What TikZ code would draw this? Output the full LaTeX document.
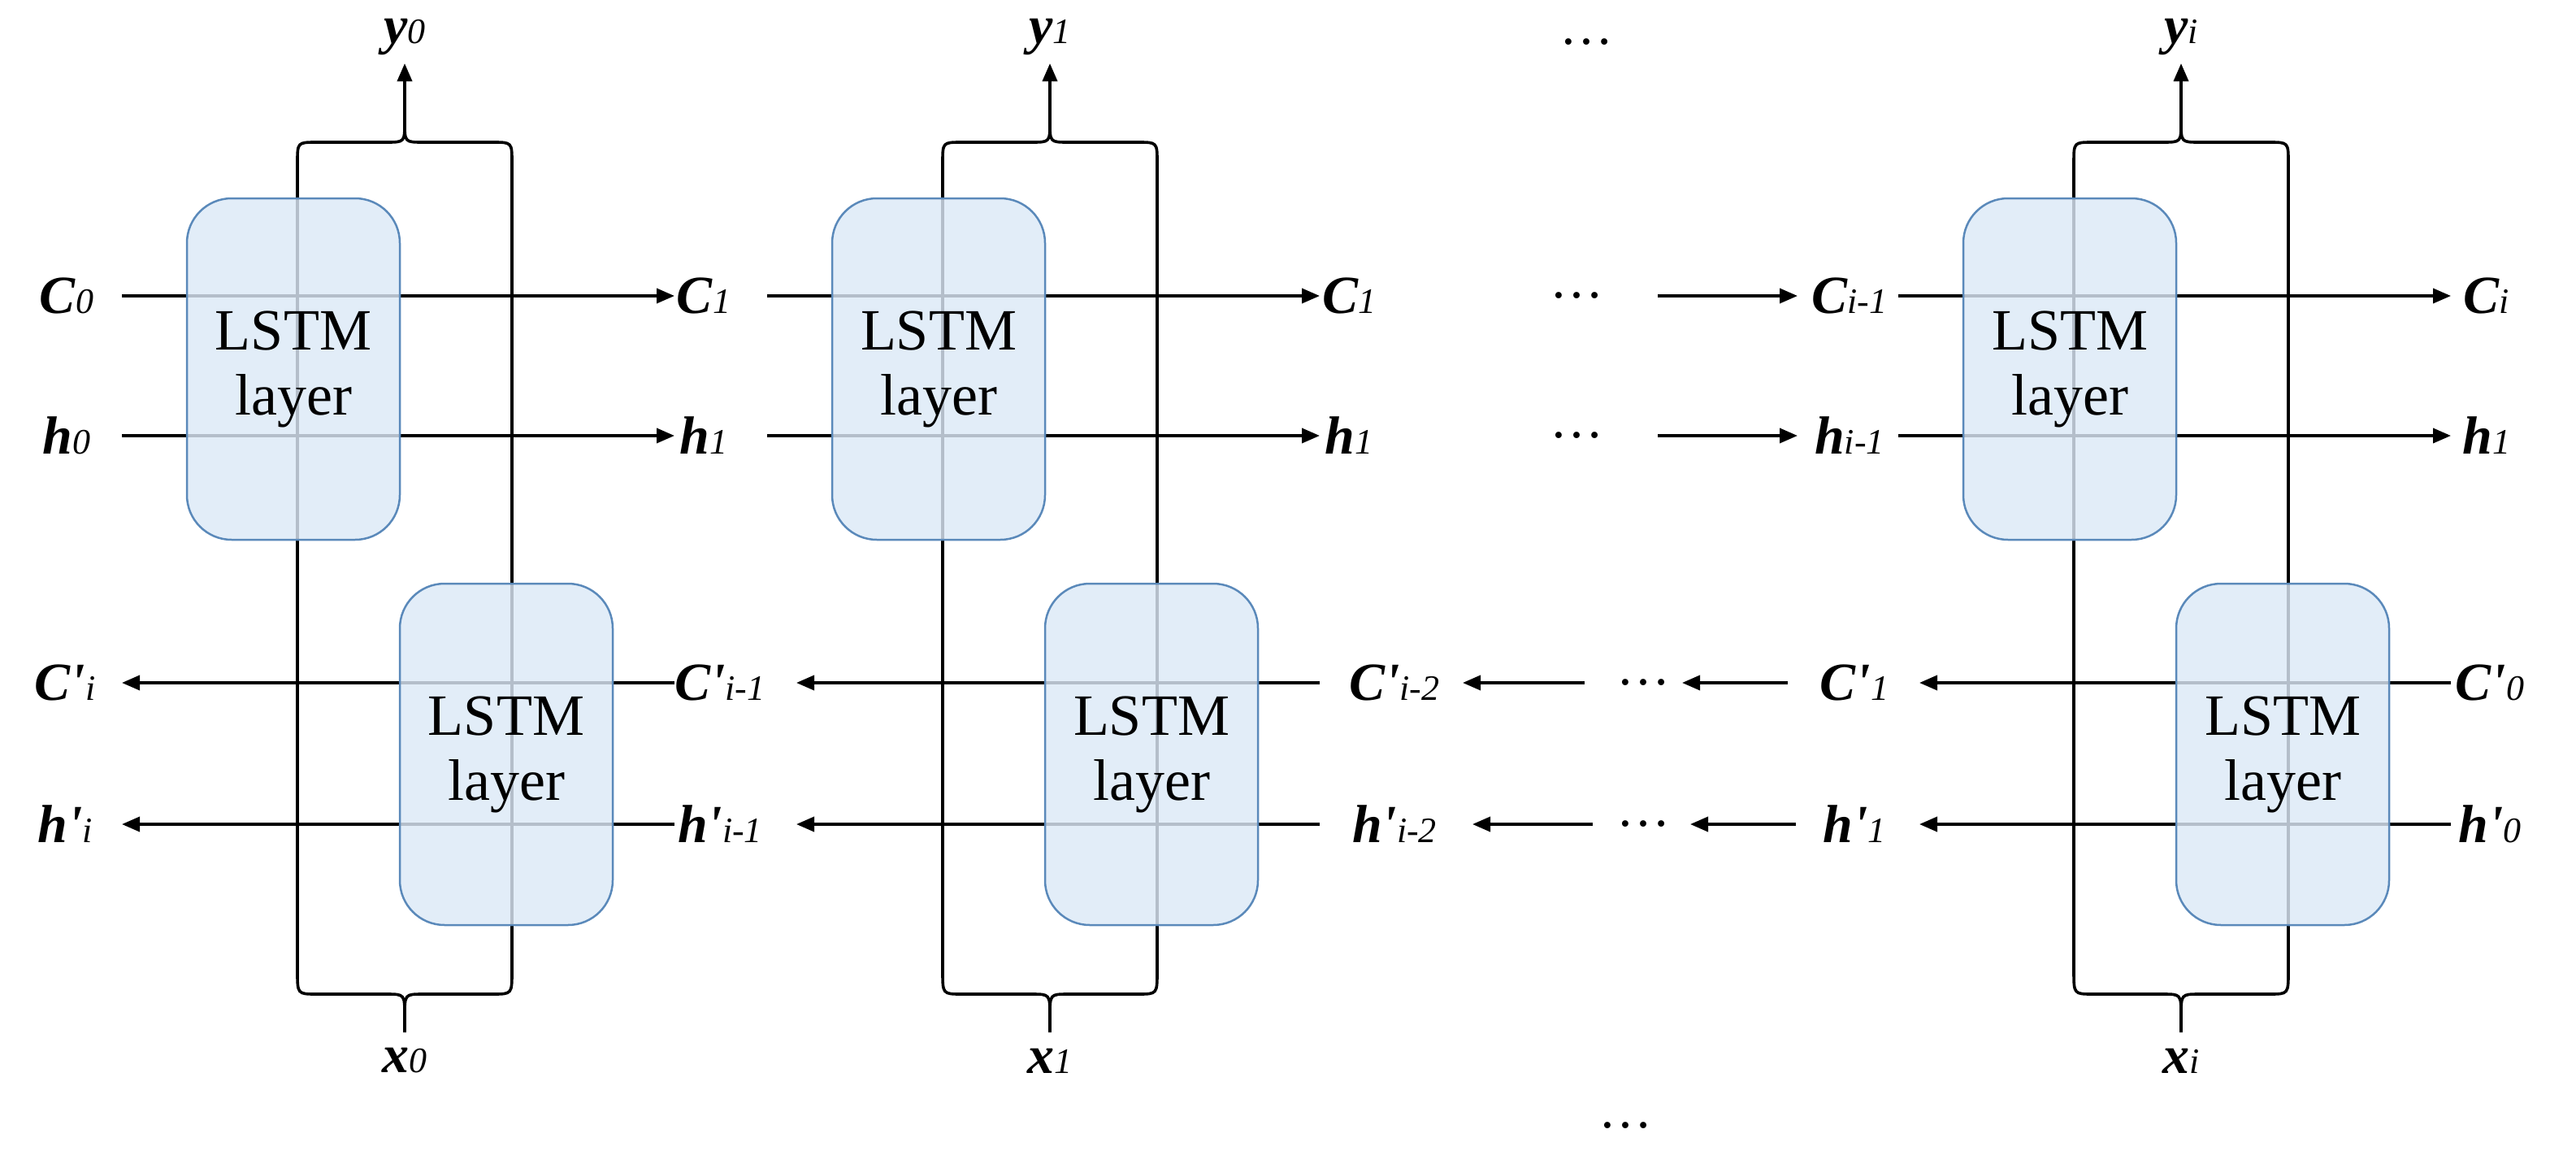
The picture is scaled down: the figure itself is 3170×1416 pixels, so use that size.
\documentclass[tikz,border=0pt]{standalone}
\usepackage{fontspec}
\setmainfont{Liberation Serif}
\usetikzlibrary{arrows.meta}
\definecolor{boxfill}{HTML}{DCE9F7}
\definecolor{boxline}{HTML}{5A89BA}
\newcommand{\lab}[2]{{\bfseries\itshape #1}{\itshape\fontsize{44}{44}\selectfont #2}}
\newcommand{\pr}{\textquotesingle}
\begin{document}
\begin{tikzpicture}[x=1pt,y=-1pt,
  every node/.style={font=\fontsize{66}{66}\selectfont},
  ln/.style={line width=3.6pt},
  arr/.style={ln,-{Triangle[length=22pt,width=18pt]}},
  lstm/.style={draw=boxline,line width=2.5pt,fill=boxfill,fill opacity=0.82,text opacity=1,rounded corners=55pt,minimum width=262pt,minimum height=420pt,inner sep=0pt,align=center,font=\fontsize{72}{80}\selectfont}]
\useasboundingbox (0,0) rectangle (3170,1416);
\foreach \o/\k/\t in {0/a/0,794/b/1,2186/c/i}{
  \begin{scope}[xshift=\o pt]
  \draw[ln] (366,1200) -- (366,200) .. controls (366,175) .. (390,175) -- (475,175) .. controls (498,175) .. (498,150);
  \draw[ln] (630,1200) -- (630,200) .. controls (630,175) .. (606,175) -- (521,175) .. controls (498,175) .. (498,150);
  \draw[arr] (498,152) -- (498,78);
  \node (y\k) at (498,45) {\lab{y}{\t}};
  \draw[ln] (366,1195) .. controls (366,1223) .. (390,1223) -- (475,1223) .. controls (498,1223) .. (498,1250) -- (498,1270);
  \draw[ln] (630,1195) .. controls (630,1223) .. (606,1223) -- (521,1223) .. controls (498,1223) .. (498,1250);
  \node (x\k) at (498,1305) {\lab{x}{\t}};
  \end{scope}
}
\node (C0) at (82,364) {\lab{C}{0}};
\node (h0) at (82,536) {\lab{h}{0}};
\node (C1a) at (866,364) {\lab{C}{1}};
\node (h1a) at (866,536) {\lab{h}{1}};
\node (C1b) at (1660,364) {\lab{C}{1}};
\node (h1b) at (1660,536) {\lab{h}{1}};
\node (dC) at (1940,364) {\dots};
\node (dh) at (1940,536) {\dots};
\node (Cim) at (2276,364) {\lab{C}{i-1}};
\node (him) at (2276,536) {\lab{h}{i-1}};
\node (Ci) at (3060,364) {\lab{C}{i}};
\node (h1c) at (3060,536) {\lab{h}{1}};
\draw[arr] (150,364) -- (830,364);
\draw[arr] (150,536) -- (830,536);
\draw[arr] (944,364) -- (1624,364);
\draw[arr] (944,536) -- (1624,536);
\draw[arr] (2040,364) -- (2212,364);
\draw[arr] (2040,536) -- (2212,536);
\draw[arr] (2336,364) -- (3016,364);
\draw[arr] (2336,536) -- (3016,536);
\node (Cpi) at (80,840) {\lab{C\pr}{i}};
\node (hpi) at (80,1014) {\lab{h\pr}{i}};
\node (Cpa) at (886,840) {\lab{C\pr}{i-1}};
\node (hpa) at (886,1014) {\lab{h\pr}{i-1}};
\node (Cpb) at (1716,840) {\lab{C\pr}{i-2}};
\node (hpb) at (1716,1014) {\lab{h\pr}{i-2}};
\node (dCp) at (2022,840) {\dots};
\node (dhp) at (2022,1014) {\dots};
\node (Cp1) at (2282,840) {\lab{C\pr}{1}};
\node (hp1) at (2282,1014) {\lab{h\pr}{1}};
\node (Cp0) at (3064,840) {\lab{C\pr}{0}};
\node (hp0) at (3064,1014) {\lab{h\pr}{0}};
\draw[arr] (830,840) -- (150,840);
\draw[arr] (830,1014) -- (150,1014);
\draw[arr] (1624,840) -- (980,840);
\draw[arr] (1624,1014) -- (980,1014);
\draw[arr] (1950,840) -- (1800,840);
\draw[arr] (1960,1014) -- (1812,1014);
\draw[arr] (2200,840) -- (2070,840);
\draw[arr] (2210,1014) -- (2080,1014);
\draw[arr] (3016,840) -- (2362,840);
\draw[arr] (3016,1014) -- (2362,1014);
\node (dtop) at (1952,52) {\dots};
\node (dbot) at (2000,1385) {\dots};
\foreach \o/\k in {0/a,794/b,2186/c}{
  \node[lstm] (U\k) at (361+\o,454) {LSTM\\layer};
  \node[lstm] (D\k) at (623+\o,928) {LSTM\\layer};
}
\end{tikzpicture}
\end{document}
